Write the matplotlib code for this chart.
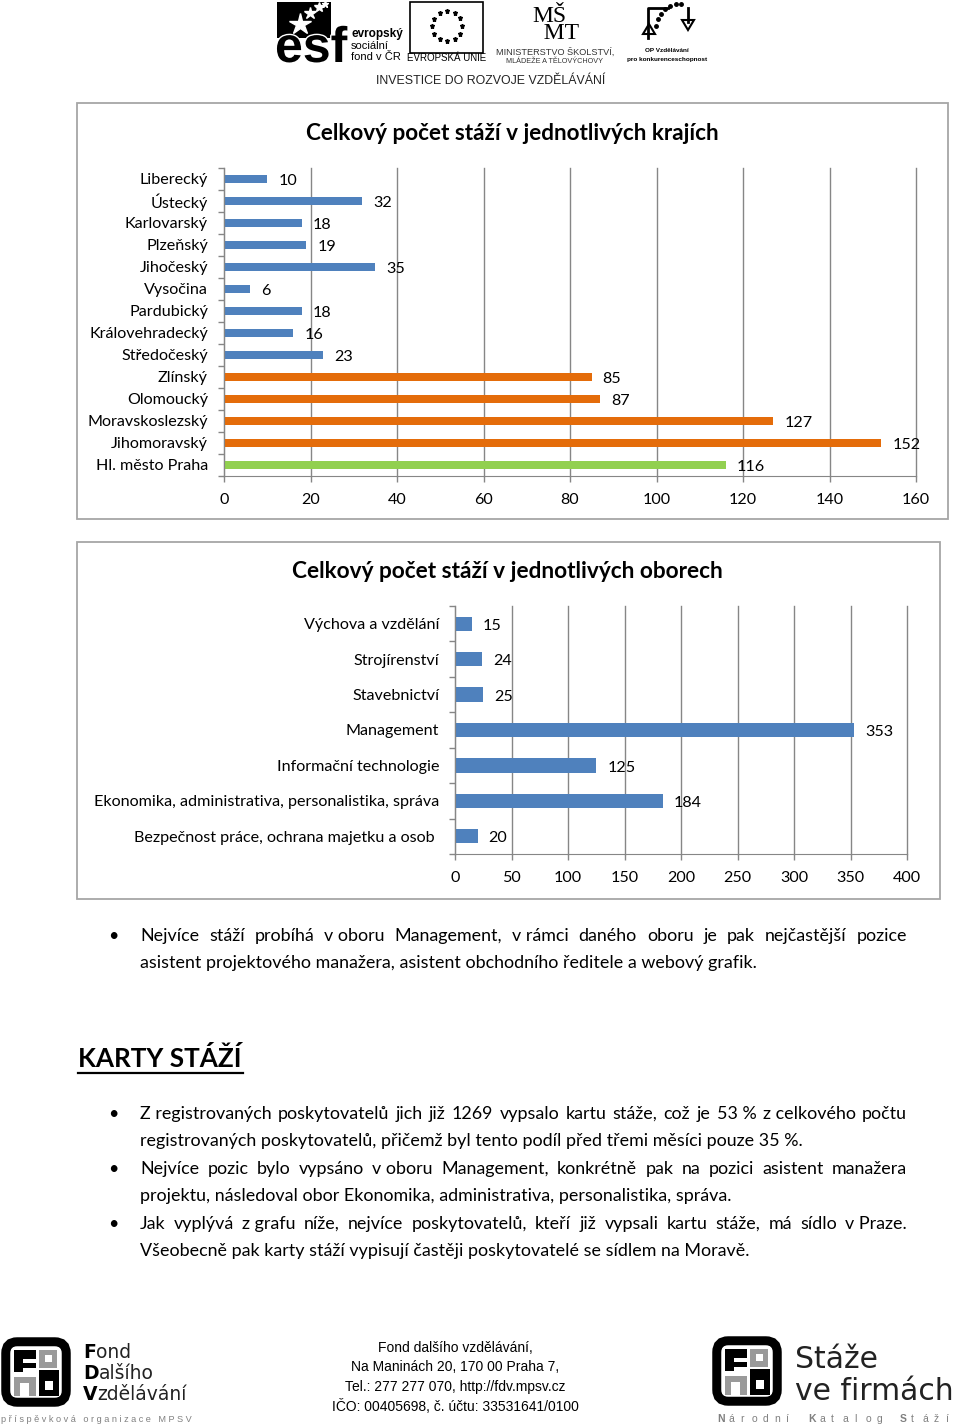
import matplotlib
matplotlib.use('Agg')
import matplotlib.pyplot as plt
from matplotlib.patches import Rectangle, FancyBboxPatch, Polygon
import matplotlib.patheffects as pe
import numpy as np

plt.rcParams['font.family'] = ['Lato', 'DejaVu Sans']

# DATA - chart 1 (regions)
kraje = ['Liberecký', 'Ústecký', 'Karlovarský', 'Plzeňský', 'Jihočeský', 'Vysočina',
         'Pardubický', 'Královehradecký', 'Středočeský', 'Zlínský', 'Olomoucký',
         'Moravskoslezský', 'Jihomoravský', 'Hl. město Praha']
staze_kraje = [10, 32, 18, 19, 35, 6, 18, 16, 23, 85, 87, 127, 152, 116]
oblast_kraje = ['Čechy'] * 9 + ['Morava'] * 4 + ['Praha']
kraje_ticks = [0, 20, 40, 60, 80, 100, 120, 140, 160]

# DATA - chart 2 (fields)
obory = ['Výchova a vzdělání', 'Strojírenství', 'Stavebnictví', 'Management',
         'Informační technologie', 'Ekonomika, administrativa, personalistika, správa',
         'Bezpečnost práce, ochrana majetku a osob ']
staze_obory = [15, 24, 25, 353, 125, 184, 20]
obory_ticks = [0, 50, 100, 150, 200, 250, 300, 350, 400]

# text of the page (nbsp keeps one-letter prepositions with the next word)
NB = '\u00a0'
para1 = ['Nejvíce stáží probíhá v' + NB + 'oboru Management, v' + NB + 'rámci daného oboru je pak nejčastější pozice',
         'asistent projektového manažera, asistent obchodního ředitele a webový grafik.']
para2 = ['Z' + NB + 'registrovaných poskytovatelů jich již 1269 vypsalo kartu stáže, což je 53' + NB + '% z' + NB + 'celkového počtu',
         'registrovaných poskytovatelů, přičemž byl tento podíl před třemi měsíci pouze 35' + NB + '%.']
para3 = ['Nejvíce pozic bylo vypsáno v' + NB + 'oboru Management, konkrétně pak na pozici asistent manažera',
         'projektu, následoval obor Ekonomika, administrativa, personalistika, správa.']
para4 = ['Jak vyplývá z' + NB + 'grafu níže, nejvíce poskytovatelů, kteří již vypsali kartu stáže, má sídlo v' + NB + 'Praze.',
         'Všeobecně pak karty stáží vypisují častěji poskytovatelé se sídlem na Moravě.']
footer_lines = ['Fond dalšího vzdělávání,', 'Na Maninách 20, 170 00 Praha 7,',
                'Tel.: 277 277 070, http://fdv.mpsv.cz', 'IČO: 00405698, č. účtu: 33531641/0100']

# STYLE
barvy = {'Čechy': '#4F81BD', 'Morava': '#E46C0A', 'Praha': '#92D050'}
grid_c = '#868686'
box_c = '#A6A6A6'
W, H = 960, 1427

fig = plt.figure(figsize=(W / 100, H / 100), dpi=100)
bg = fig.add_axes([0, 0, 1, 1])
bg.set_xlim(0, W)
bg.set_ylim(H, 0)
bg.axis('off')
renderer = fig.canvas.get_renderer()


def px_axes(left, top, right, bottom):
    return fig.add_axes([left / W, 1 - bottom / H, (right - left) / W, (bottom - top) / H])


def bar_chart(ax, labels, values, colors, ticks, fs=11.6):
    y = np.arange(len(labels))
    ax.barh(y, values, height=0.4, color=colors, zorder=2)
    ax.set_ylim(len(labels) - 0.5, -0.5)
    ax.set_xlim(ticks[0], ticks[-1])
    ax.set_yticks(y, labels)
    ax.set_yticks(np.arange(len(labels) + 1) - 0.5, minor=True)
    ax.set_xticks(ticks)
    ax.tick_params(axis='y', which='major', length=0, pad=11.5, labelsize=fs)
    ax.tick_params(axis='y', which='minor', length=4, color=grid_c, width=1)
    ax.tick_params(axis='x', length=4, color=grid_c, width=1, pad=8.5, labelsize=fs)
    ax.grid(axis='x', color=grid_c, lw=1, zorder=1)
    for gl in ax.get_xgridlines():
        gl.set_clip_on(False)
    ax.set_axisbelow(True)
    ax.spines[['top', 'right']].set_visible(False)
    ax.spines[['left', 'bottom']].set_color(grid_c)
    ax.patch.set_alpha(0)
    for yi, v in zip(y, values):
        ax.annotate(str(v), (v, yi), xytext=(8, -1.5), textcoords='offset points',
                    va='center', ha='left', fontsize=fs, zorder=3)


def text_width(s, **kw):
    t = bg.text(0, 0, s, **kw)
    w = t.get_window_extent(renderer).width
    t.remove()
    return w


def put_line(x0, x1, y, line, justify, **kw):
    words = line.split(' ')
    if not justify:
        bg.text(x0, y, line.replace(NB, ' '), va='baseline', **kw)
        return
    ws = [text_width(w.replace(NB, ' '), **kw) for w in words]
    gap = (x1 - x0 - sum(ws)) / (len(words) - 1)
    x = x0
    for w, wd in zip(words, ws):
        bg.text(x, y, w.replace(NB, ' '), va='baseline', **kw)
        x += wd + gap


def bullet(lines, y0, step=27.4, fs=12.85):
    bg.text(113, y0, '•', fontsize=fs, va='baseline', ha='center')
    for i, ln in enumerate(lines):
        put_line(140, 907, y0 + i * step, ln, i < len(lines) - 1, fontsize=fs)


def spaced(x0, y, s, adv, bold_chars, **kw):
    # letter-spaced caption under the logos
    for i, ch in enumerate(s):
        bg.text(x0 + i * adv, y, ch, ha='left', va='center',
                fontweight='bold' if ch in bold_chars else 'normal', **kw)


def fond_logo(x, y, s):
    # rounded black square with the F / o / n / d blocks
    bg.add_patch(FancyBboxPatch((x + 0.08 * s, y + 0.08 * s), 0.84 * s, 0.84 * s,
                                boxstyle='round,pad=0,rounding_size=%f' % (0.16 * s),
                                fc='white', ec='black', lw=0.09 * s))
    u = s / 64.0
    bg.add_patch(Rectangle((x + 12 * u, y + 12 * u), 20 * u, 20 * u, fc='black'))
    bg.add_patch(Rectangle((x + 20 * u, y + 20 * u), 12 * u, 4 * u, fc='white'))
    bg.add_patch(Rectangle((x + 20 * u, y + 28 * u), 12 * u, 4 * u, fc='white'))
    bg.add_patch(Rectangle((x + 35 * u, y + 12 * u), 16 * u, 16 * u, fc='#9A9A9A'))
    bg.add_patch(Rectangle((x + 40 * u, y + 17 * u), 6 * u, 6 * u, fc='white'))
    bg.add_patch(Rectangle((x + 12 * u, y + 36 * u), 20 * u, 17 * u, fc='#9A9A9A'))
    bg.add_patch(Rectangle((x + 18 * u, y + 42 * u), 8 * u, 11 * u, fc='white'))
    bg.add_patch(Rectangle((x + 35 * u, y + 30 * u), 17 * u, 23 * u, fc='black'))
    bg.add_patch(Rectangle((x + 40 * u, y + 40 * u), 7 * u, 8 * u, fc='white'))


# ---------------- header logos ----------------
bg.add_patch(Rectangle((277, 2), 54, 36, fc='black'))
for (sx, sy, sz) in [(300, 24, 16), (310, 13, 9), (319, 7, 7), (325, 4, 5)]:
    bg.plot(sx, sy, marker='*', color='white', ms=sz, mec='white')
bg.text(275, 62, 'esf', fontsize=36, fontweight='bold', family='Liberation Sans',
        va='baseline', color='black',
        path_effects=[pe.withStroke(linewidth=2, foreground='white')])
bg.text(351, 37, 'evropský', fontsize=8.5, fontweight='bold', family='Liberation Sans', va='baseline')
bg.text(351, 49, 'sociální', fontsize=8, family='Liberation Sans', va='baseline')
bg.text(351, 60, 'fond v ČR', fontsize=8, family='Liberation Sans', va='baseline')

bg.add_patch(Rectangle((410, 2), 73, 51, fc='white', ec='black', lw=1.2))
for a in np.linspace(0, 2 * np.pi, 13)[:-1]:
    bg.plot(447 + 15 * np.cos(a), 26 + 15 * np.sin(a), marker='*', color='black', ms=3.6)
bg.text(447, 61, 'EVROPSKÁ UNIE', fontsize=7, family='Liberation Sans', ha='center', va='baseline')

bg.text(556, 6, 'MŠ\n  MT', fontsize=17, family='Liberation Serif', ha='center', va='top',
        linespacing=0.78, multialignment='left')
bg.text(555, 55, 'MINISTERSTVO ŠKOLSTVÍ,', fontsize=6.6, family='Liberation Sans', ha='center',
        va='baseline', color='#333333')
bg.text(555, 63, 'MLÁDEŽE A TĚLOVÝCHOVY', fontsize=5.2, family='Liberation Sans', ha='center',
        va='baseline', color='#333333')

bg.plot([648, 648, 668], [38, 8, 8], color='black', lw=2)
bg.plot([688, 688], [8, 22], color='black', lw=2)
bg.add_patch(Polygon([[682, 20], [694, 20], [688, 30]], closed=True, fc='white', ec='black', lw=1.5))
bg.add_patch(Polygon([[643, 34], [655, 34], [649, 24]], closed=True, fc='white', ec='black', lw=1.5))
ang = np.linspace(np.pi * 0.95, np.pi * 0.45, 7)
bg.plot(678 + 22 * np.cos(ang), 30 - 26 * np.sin(ang), 'o', color='black', ms=2.5)
bg.text(667, 52, 'OP Vzdělávání', fontsize=4.6, fontweight='bold', family='Liberation Sans',
        ha='center', va='baseline')
bg.text(667, 61, 'pro konkurenceschopnost', fontsize=4.6, fontweight='bold', family='Liberation Sans',
        ha='center', va='baseline')

bg.text(491, 84, 'INVESTICE DO ROZVOJE VZDĚLÁVÁNÍ', fontsize=8.9,
        family='Liberation Sans', ha='center', va='baseline', color='#222222')

# ---------------- chart 1 ----------------
bg.add_patch(Rectangle((77, 103), 871, 416, fc='white', ec=box_c, lw=1.3))
bg.text(512, 133, 'Celkový počet stáží v jednotlivých krajích', fontsize=16.2, fontweight='bold',
        ha='center', va='center')
ax1 = px_axes(224, 168, 916, 476)
bar_chart(ax1, kraje, staze_kraje, [barvy[o] for o in oblast_kraje], kraje_ticks)

# ---------------- chart 2 ----------------
bg.add_patch(Rectangle((77, 542), 863, 357, fc='white', ec=box_c, lw=1.3))
bg.text(507, 571, 'Celkový počet stáží v jednotlivých oborech', fontsize=16.3, fontweight='bold',
        ha='center', va='center')
ax2 = px_axes(455, 606, 907, 854)
bar_chart(ax2, obory, staze_obory, [barvy['Čechy']] * len(obory), obory_ticks)

# ---------------- text ----------------
bullet(para1, 941)
bg.text(78, 1067, 'KARTY STÁŽÍ', fontsize=18.8, fontweight='bold', va='baseline')
bg.plot([78, 243], [1073, 1073], color='black', lw=1.6)
bullet(para2, 1119)
bullet(para3, 1174)
bullet(para4, 1229)

# ---------------- footer ----------------
fond_logo(0, 1336, 72)
for i, word in enumerate(['Fond', 'Dalšího', 'Vzdělávání']):
    t = bg.text(83, 1358 + 21 * i, word[0], fontsize=13.5, fontweight='bold', va='baseline',
                family='DejaVu Sans')
    bg.annotate(word[1:], xy=(1, 0), xycoords=t, va='bottom', fontsize=13.5, family='DejaVu Sans',
                color='#222222')
bg.text(96, 1419, 'p ř í s p ě v k o v á   o r g a n i z a c e   M P S V', fontsize=6.6,
        color='#808080', ha='center', va='center', family='Liberation Sans')

for i, ln in enumerate(footer_lines):
    bg.text(455, 1348 + 19.4 * i, ln, fontsize=10, family='Liberation Sans',
            ha='center', va='center')

fond_logo(711, 1335, 72)
bg.text(795, 1368, 'Stáže', fontsize=21.5, family='DejaVu Sans', va='baseline', color='#222222')
bg.text(795, 1400, 've firmách', fontsize=21.5, family='DejaVu Sans', va='baseline', color='#222222')
spaced(717, 1419, 'Národní Katalog Stáží', 11.4, 'NKS', fontsize=7.5, color='#808080',
       family='Liberation Sans')

fig.savefig('out.png', dpi=100)
plt.close('all')
